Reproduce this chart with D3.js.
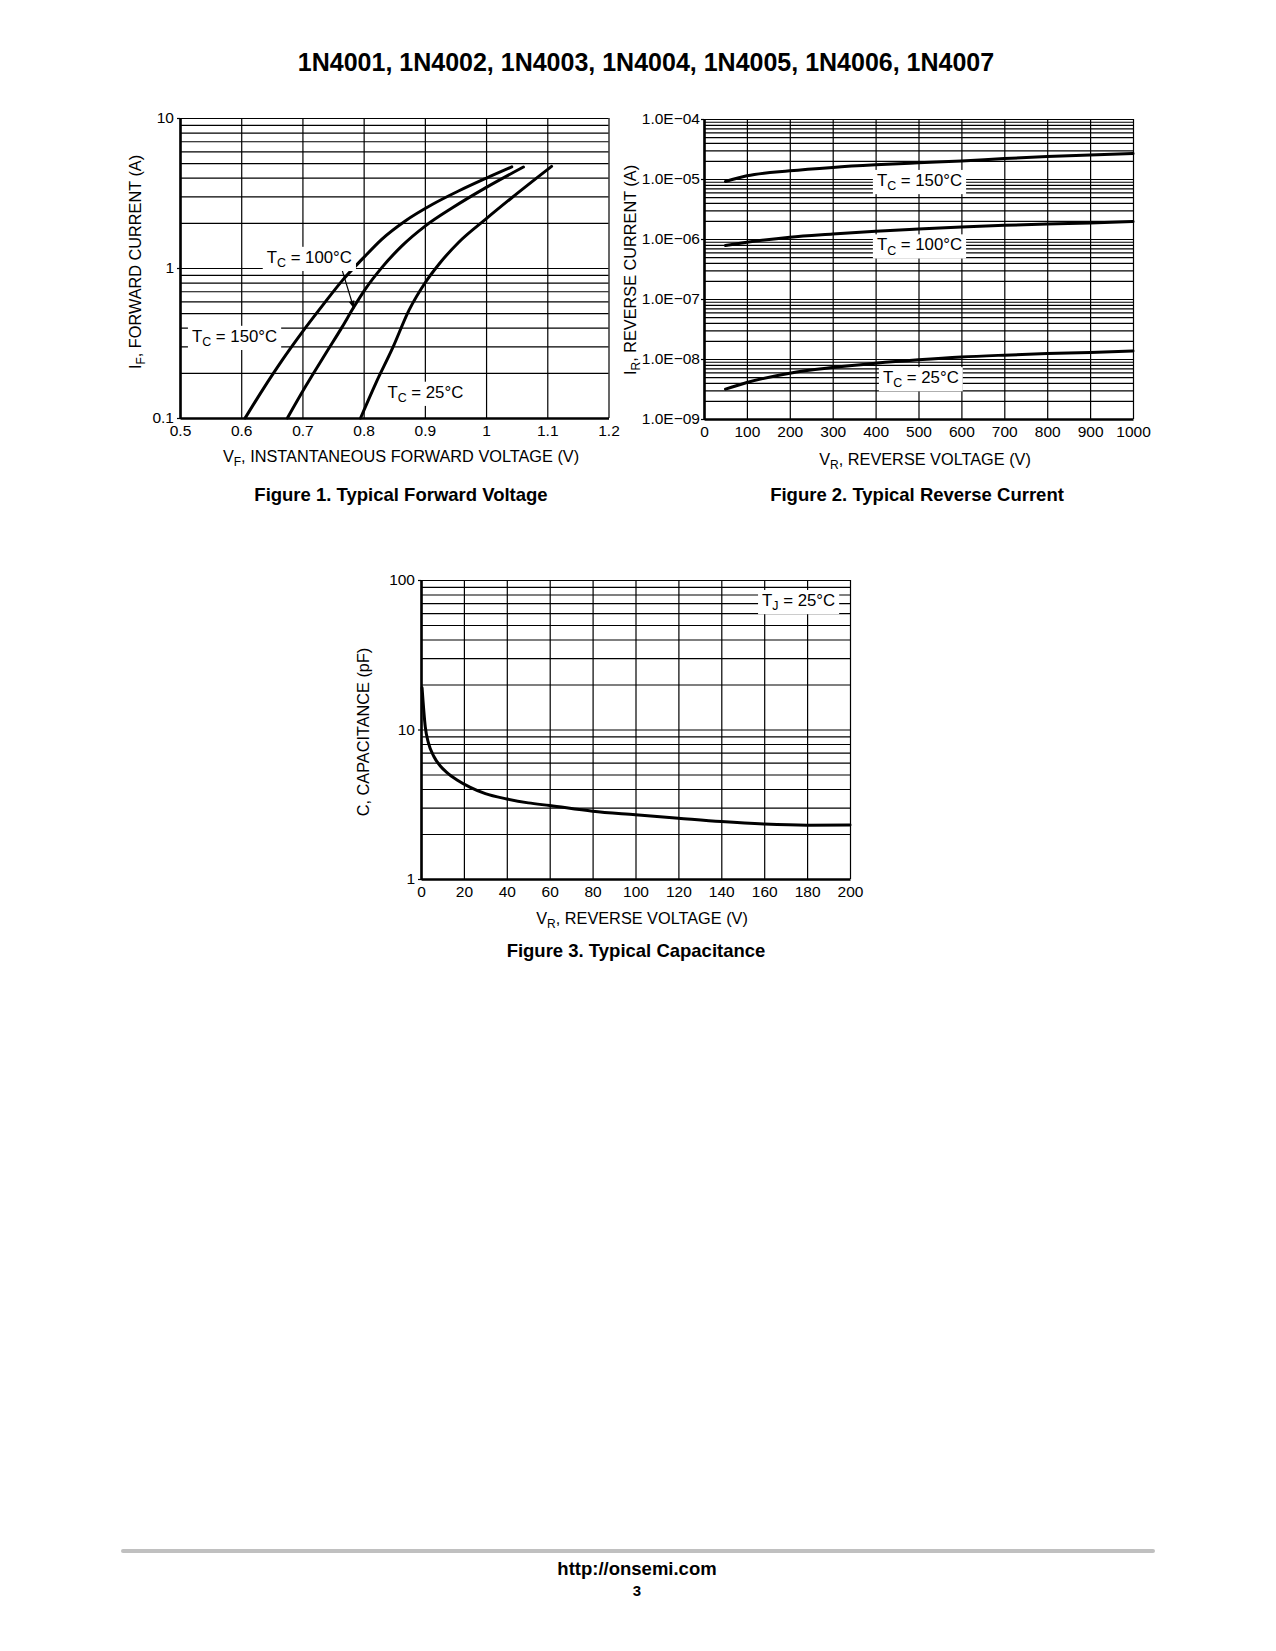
<!DOCTYPE html>
<html>
<head>
<meta charset="utf-8">
<script src="https://cdn.jsdelivr.net/npm/d3@7"></script>
<style>
  body { margin: 0; background: #fff; }
  text { font-family: "Liberation Sans", Arial, Helvetica, sans-serif; fill: #000; }
  .grid line { stroke: #000; stroke-width: 1.2; }
  .axis .domain { stroke: #000; stroke-width: 2.6; }
  .axis line { stroke: #000; stroke-width: 1.2; }
  .axis text { font-size: 15.5px; }
  .curve { fill: none; stroke: #000; stroke-width: 3; stroke-linecap: round; }
</style>
</head>
<body>
<svg id="page" width="1276" height="1651"></svg>
<script>
// ---------- Figure 1: forward voltage (V) vs forward current (A) ----------
const vf150 = [0.6065, 0.635, 0.667, 0.700, 0.733, 0.765, 0.798, 0.830, 0.868, 0.912, 0.955, 0.999, 1.042];
const if150 = [0.10, 0.154, 0.243, 0.375, 0.563, 0.824, 1.15, 1.56, 2.06, 2.65, 3.26, 3.95, 4.72];
const vf100 = [0.6755, 0.705, 0.738, 0.765, 0.784, 0.803, 0.830, 0.863, 0.901, 0.945, 0.999, 1.061];
const if100 = [0.10, 0.162, 0.269, 0.405, 0.549, 0.726, 1.01, 1.41, 1.91, 2.52, 3.42, 4.71];
const vf25 = [0.795, 0.820, 0.847, 0.874, 0.901, 0.923, 0.955, 0.999, 1.042, 1.107];
const if25 = [0.10, 0.171, 0.291, 0.522, 0.804, 1.06, 1.48, 2.11, 2.94, 4.76];
const fig1XTicks = [0.5, 0.6, 0.7, 0.8, 0.9, 1.0, 1.1, 1.2];
const fig1XLabels = ["0.5", "0.6", "0.7", "0.8", "0.9", "1", "1.1", "1.2"];
const fig1YTicks = [0.1, 1, 10];
const fig1YLabels = ["0.1", "1", "10"];

// ---------- Figure 2: reverse voltage (V) vs reverse current (A) ----------
const vr = [50, 100, 200, 300, 400, 500, 600, 700, 800, 900, 1000];
const ir150 = [9.1e-6, 1.13e-5, 1.37e-5, 1.56e-5, 1.72e-5, 1.86e-5, 2.0e-5, 2.19e-5, 2.37e-5, 2.52e-5, 2.65e-5];
const ir100 = [7.8e-7, 8.8e-7, 1.07e-6, 1.21e-6, 1.35e-6, 1.47e-6, 1.59e-6, 1.69e-6, 1.78e-6, 1.85e-6, 1.95e-6];
const ir25 = [3.15e-9, 4.06e-9, 5.8e-9, 7.2e-9, 8.5e-9, 9.7e-9, 1.08e-8, 1.16e-8, 1.23e-8, 1.28e-8, 1.36e-8];
const fig2XTicks = [0, 100, 200, 300, 400, 500, 600, 700, 800, 900, 1000];
const fig2YTicks = [1e-9, 1e-8, 1e-7, 1e-6, 1e-5, 1e-4];
const fig2YLabels = ["1.0E\u221209", "1.0E\u221208", "1.0E\u221207", "1.0E\u221206", "1.0E\u221205", "1.0E\u221204"];

// ---------- Figure 3: reverse voltage (V) vs capacitance (pF) ----------
const vc = [0.5, 2, 3.5, 6, 9, 12, 17, 23, 30, 40, 50, 60, 80, 100, 120, 140, 160, 180, 200];
const cap = [19, 10.4, 8.1, 6.6, 5.7, 5.17, 4.58, 4.1, 3.72, 3.43, 3.23, 3.1, 2.84, 2.69, 2.55, 2.42, 2.33, 2.29, 2.30];
const fig3XTicks = [0, 20, 40, 60, 80, 100, 120, 140, 160, 180, 200];
const fig3YTicks = [1, 10, 100];
const fig3YLabels = ["1", "10", "100"];

const svg = d3.select("#page");
svg.append("rect").attr("width", 1276).attr("height", 1651).attr("fill", "#fff");

svg.append("defs").append("marker")
    .attr("id", "arrow")
    .attr("viewBox", "0 0 10 10")
    .attr("refX", 10).attr("refY", 5)
    .attr("markerWidth", 10).attr("markerHeight", 8)
    .attr("markerUnits", "userSpaceOnUse")
    .attr("orient", "auto")
    .append("path").attr("d", "M0,1.5 L10,5 L0,8.5 Z").attr("fill", "#000");

// text with subscript parts: parts = [[text, isSub], ...], fs = font size in px
function richText(sel, parts, fs) {
    const shift = fs * 0.25;
    let down = false;
    parts.forEach(p => {
        const t = sel.append("tspan").text(p[0]);
        if (p[1]) {
            t.attr("dy", shift).attr("font-size", (fs * 0.74) + "px");
            down = true;
        } else if (down) {
            t.attr("dy", -shift);
            down = false;
        }
    });
    return sel;
}

// label with white box behind it
function boxedLabel(g, x, y, parts) {
    const fs = 16.8;
    const t = g.append("text")
        .attr("x", x).attr("y", y + fs * 0.3)
        .attr("font-size", fs + "px");
    richText(t, parts, fs);
    const b = t.node().getBBox();
    g.insert("rect", () => t.node())
        .attr("x", b.x - 4).attr("y", b.y - 1)
        .attr("width", b.width + 8).attr("height", b.height + 2)
        .attr("fill", "#fff");
}

function drawPanel(p) {
    const g = svg.append("g").attr("transform", `translate(${p.left},${p.top})`);
    const w = p.width, h = p.height;
    const x = p.x.range([0, w]);
    const y = p.y.range([h, 0]);

    // horizontal log grid
    g.append("g").attr("class", "grid")
        .call(d3.axisLeft(y).tickValues(y.ticks()).tickSize(-w).tickFormat(""))
        .call(a => a.select(".domain").remove());
    // vertical grid
    g.append("g").attr("class", "grid")
        .call(d3.axisBottom(x).tickValues(p.xTicks).tickSize(h).tickFormat(""))
        .call(a => a.select(".domain").remove());

    // axes
    g.append("g").attr("class", "axis")
        .call(d3.axisLeft(y).tickValues(p.yTicks)
            .tickFormat((d, i) => p.yLabels[i])
            .tickSize(3).tickSizeOuter(0).tickPadding(p.yPad));
    g.append("g").attr("class", "axis")
        .attr("transform", `translate(0,${h})`)
        .call(d3.axisBottom(x).tickValues(p.xTicks)
            .tickFormat((d, i) => p.xLabels[i])
            .tickSize(0).tickSizeOuter(0).tickPadding(7));

    const line = d3.line()
        .x(d => x(d[0])).y(d => y(d[1]))
        .curve(d3.curveMonotoneX);
    p.series.forEach(s => {
        g.append("path").attr("class", "curve")
            .attr("d", line(d3.zip(s[0], s[1])));
    });

    // axis titles and caption
    const tfs = 16.3;
    const xt = svg.append("text")
        .attr("x", p.xTitleAt[0]).attr("y", p.xTitleAt[1])
        .attr("text-anchor", "middle").attr("font-size", tfs + "px");
    richText(xt, p.xTitle, tfs);
    const yt = svg.append("text")
        .attr("transform", `translate(${p.yTitleAt[0]},${p.yTitleAt[1]}) rotate(-90)`)
        .attr("text-anchor", "middle").attr("font-size", tfs + "px");
    richText(yt, p.yTitle, tfs);
    svg.append("text")
        .attr("x", p.captionAt[0]).attr("y", p.captionAt[1])
        .attr("text-anchor", "middle")
        .attr("font-size", "18.5px").attr("font-weight", "bold")
        .text(p.caption);

    return {g, x, y};
}

// ---------- title ----------
svg.append("text")
    .attr("x", 646).attr("y", 71)
    .attr("text-anchor", "middle")
    .attr("font-size", "25px").attr("font-weight", "bold")
    .text("1N4001, 1N4002, 1N4003, 1N4004, 1N4005, 1N4006, 1N4007");

// ---------- figure 1 ----------
const f1 = drawPanel({
    left: 180, top: 118, width: 428.5, height: 300,
    x: d3.scaleLinear().domain([0.5, 1.2]),
    y: d3.scaleLog().domain([0.1, 10]),
    xTicks: fig1XTicks, xLabels: fig1XLabels,
    yTicks: fig1YTicks, yLabels: fig1YLabels, yPad: 3,
    series: [[vf150, if150], [vf100, if100], [vf25, if25]],
    xTitle: [["V"], ["F", true], [", INSTANTANEOUS FORWARD VOLTAGE (V)"]],
    yTitle: [["I"], ["F", true], [", FORWARD CURRENT (A)"]],
    caption: "Figure 1. Typical Forward Voltage",
    xTitleAt: [401, 462], yTitleAt: [141, 262], captionAt: [401, 501]
});
f1.g.append("line")
    .attr("x1", f1.x(0.7625)).attr("y1", f1.y(1.04))
    .attr("x2", f1.x(0.7842)).attr("y2", f1.y(0.535))
    .attr("stroke", "#000").attr("stroke-width", 1.2)
    .attr("marker-end", "url(#arrow)");
boxedLabel(f1.g, f1.x(0.6417), f1.y(1.17), [["T"], ["C", true], [" = 100\u00B0C"]]);
boxedLabel(f1.g, f1.x(0.5195), f1.y(0.348), [["T"], ["C", true], [" = 150\u00B0C"]]);
boxedLabel(f1.g, f1.x(0.8388), f1.y(0.1475), [["T"], ["C", true], [" = 25\u00B0C"]]);

// ---------- figure 2 ----------
const f2 = drawPanel({
    left: 704, top: 119, width: 429, height: 300,
    x: d3.scaleLinear().domain([0, 1000]),
    y: d3.scaleLog().domain([1e-9, 1e-4]),
    xTicks: fig2XTicks, xLabels: fig2XTicks.map(String),
    yTicks: fig2YTicks, yLabels: fig2YLabels, yPad: 1,
    series: [[vr, ir150], [vr, ir100], [vr, ir25]],
    xTitle: [["V"], ["R", true], [", REVERSE VOLTAGE (V)"]],
    yTitle: [["I"], ["R", true], [", REVERSE CURRENT (A)"]],
    caption: "Figure 2. Typical Reverse Current",
    xTitleAt: [925, 465], yTitleAt: [636, 270], captionAt: [917, 501]
});
boxedLabel(f2.g, f2.x(403), f2.y(9.3e-6), [["T"], ["C", true], [" = 150\u00B0C"]]);
boxedLabel(f2.g, f2.x(403), f2.y(7.85e-7), [["T"], ["C", true], [" = 100\u00B0C"]]);
boxedLabel(f2.g, f2.x(417), f2.y(4.8e-9), [["T"], ["C", true], [" = 25\u00B0C"]]);

// ---------- figure 3 ----------
const f3 = drawPanel({
    left: 421, top: 580, width: 429, height: 299,
    x: d3.scaleLinear().domain([0, 200]),
    y: d3.scaleLog().domain([1, 100]),
    xTicks: fig3XTicks, xLabels: fig3XTicks.map(String),
    yTicks: fig3YTicks, yLabels: fig3YLabels, yPad: 3,
    series: [[vc, cap]],
    xTitle: [["V"], ["R", true], [", REVERSE VOLTAGE (V)"]],
    yTitle: [["C, CAPACITANCE (pF)"]],
    caption: "Figure 3. Typical Capacitance",
    xTitleAt: [642, 924], yTitleAt: [369, 732], captionAt: [636, 957]
});
boxedLabel(f3.g, f3.x(159), f3.y(72.4), [["T"], ["J", true], [" = 25\u00B0C"]]);

// ---------- footer ----------
svg.append("line")
    .attr("x1", 123).attr("x2", 1153).attr("y1", 1551).attr("y2", 1551)
    .attr("stroke", "#c0c0c0").attr("stroke-width", 4).attr("stroke-linecap", "round");
svg.append("text")
    .attr("x", 637).attr("y", 1575).attr("text-anchor", "middle")
    .attr("font-size", "18.5px").attr("font-weight", "bold")
    .text("http://onsemi.com");
svg.append("text")
    .attr("x", 637).attr("y", 1596).attr("text-anchor", "middle")
    .attr("font-size", "15px").attr("font-weight", "bold")
    .text("3");
</script>
</body>
</html>
